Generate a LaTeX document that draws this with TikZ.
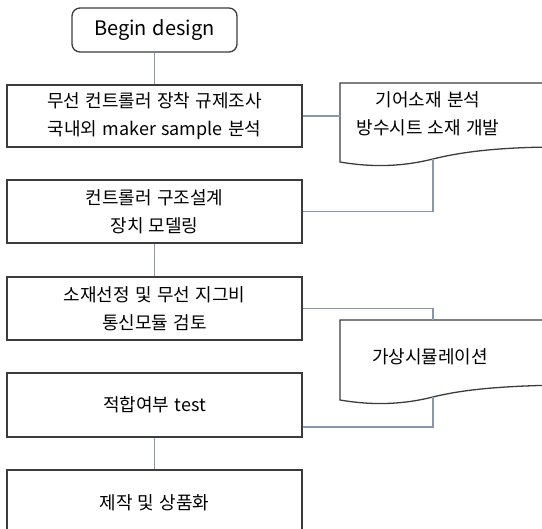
\documentclass[tikz,border=0pt]{standalone}
\usepackage{fontspec}
\setmainfont{Noto Sans CJK KR}[WordSpace=1.3]
\begin{document}
\begin{tikzpicture}[x=1pt,y=-1pt,
  box/.style={draw=boxgray, line width=1.3pt, minimum width=295pt, inner sep=0pt, align=center, font=\fontsize{18}{28}\selectfont},
  docnode/.style={inner sep=0pt, align=center, font=\fontsize{18}{28}\selectfont},
  link/.style={draw=linkgray, line width=1.4pt},
  docline/.style={draw=boxgray, line width=1.3pt}]
\definecolor{boxgray}{RGB}{60,60,60}
\definecolor{linkgray}{RGB}{135,152,172}
\useasboundingbox (0,0) rectangle (542,529);
\clip (0,0) rectangle (542,529);
% begin
\node[draw=boxgray, line width=1.3pt, rounded corners=8pt, minimum width=165pt, minimum height=44pt, inner sep=0pt, font=\fontsize{20}{24}\selectfont] (begin) at (154.5,30) {Begin design};
% boxes
\node[box, minimum height=62pt] (b1) at (154.5,116) {무선 컨트롤러 장착 규제조사\\국내외 maker sample 분석};
\node[box, minimum height=63pt] (b2) at (154.5,211.5) {컨트롤러 구조설계\\장치 모델링};
\node[box, minimum height=63pt] (b3) at (154.5,308.5) {소재선정 및 무선 지그비\\통신모듈 검토};
\node[box, minimum height=64pt] (b4) at (154.5,405) {적합여부 test};
\node[box, minimum height=66pt] (b5) at (154.5,503) {제작 및 상품화};
% documents
\node[docnode] (d1) at (428,114) {기어소재 분석\\방수시트 소재 개발};
\node[docnode] (d2) at (430,357) {가상시뮬레이션};
\draw[docline] (560,148) -- (560,83) -- (340,83) -- (340,162)
  .. controls (375,168) and (405,166) .. (433,159)
  .. controls (465,151) and (505,147) .. (560,147);
\coordinate (d1t) at (433,159);
\draw[docline] (560,386) -- (560,320) -- (340,320) -- (340,400)
  .. controls (375,406) and (405,404) .. (433,397)
  .. controls (465,389) and (505,386) .. (560,385);
\coordinate (d2b) at (433,397);
\coordinate (d2t) at (433,320);
\coordinate (d1l) at (340,116);
% connectors
\draw[link] (begin.south) -- (b1.north);
\draw[link] (b1.east) -- (d1l);
\draw[link] (d1t) |- (b2.east);
\draw[link] (b2.south) -- (b3.north);
\draw[link] (b3.east) -| (d2t);
\draw[link] (b4.south) -- (b5.north);
\draw[link] ([yshift=-22pt]b4.east) -| (d2b);
\end{tikzpicture}
\end{document}
